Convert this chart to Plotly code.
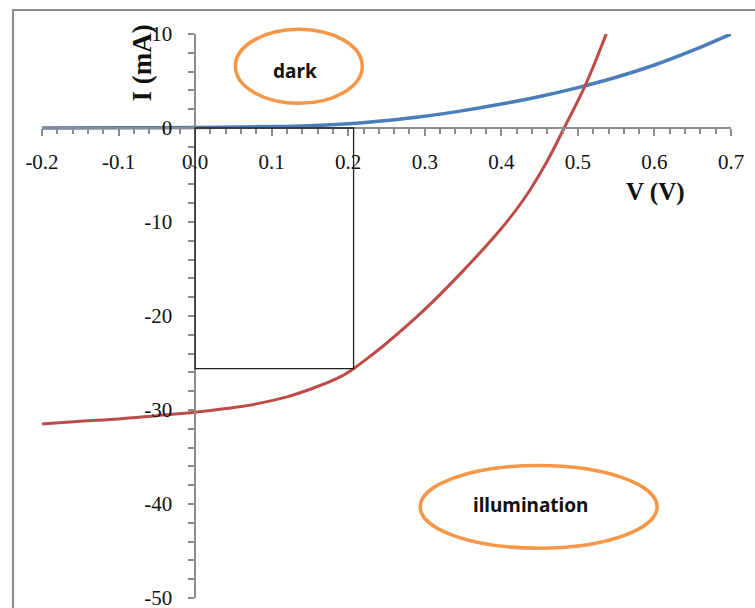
import plotly.graph_objects as go

# ---- data ----
v_dark = [-0.2, -0.1, 0.0, 0.1, 0.15, 0.2, 0.25, 0.3, 0.35, 0.4, 0.45, 0.5, 0.55, 0.6, 0.65, 0.7]
i_dark = [0.0, 0.02, 0.05, 0.15, 0.25, 0.45, 0.8, 1.25, 1.85, 2.55, 3.35, 4.3, 5.4, 6.7, 8.25, 10.0]

v_light = [-0.2, -0.15, -0.1, -0.05, 0.0, 0.04, 0.08, 0.12, 0.16, 0.19, 0.207, 0.23, 0.25, 0.3, 0.35, 0.4, 0.43, 0.46, 0.482, 0.51, 0.537]
i_light = [-31.5, -31.2, -30.95, -30.6, -30.25, -29.85, -29.35, -28.6, -27.5, -26.45, -25.6, -24.2, -22.9, -19.3, -15.2, -10.7, -7.5, -3.5, 0.0, 4.6, 10.0]

# maximum power rectangle (Vmp, Imp)
rect_v = [0.0, 0.207]
rect_i = [-25.6, 0.0]

x_range = [-0.2, 0.7]
y_range = [-50, 10]
x_ticks = [-0.2, -0.1, 0.0, 0.1, 0.2, 0.3, 0.4, 0.5, 0.6, 0.7]
x_tick_labels = ["-0.2", "-0.1", "0.0", "0.1", "0.2", "0.3", "0.4", "0.5", "0.6", "0.7"]
y_ticks = [-50, -40, -30, -20, -10, 0, 10]
y_tick_labels = ["-50", "-40", "-30", "-20", "-10", "0", "10"]

W, H = 755, 608
ML, MR, MT, MB = 42, 24, 34, 10

def px(v):
    return (v - x_range[0]) / (x_range[1] - x_range[0])

def py(i):
    return (i - y_range[0]) / (y_range[1] - y_range[0])

fig = go.Figure()
fig.add_trace(go.Scatter(x=v_dark, y=i_dark, mode="lines",
                         line=dict(color="#4A7EBB", width=3.5, shape="spline", smoothing=1.0),
                         showlegend=False, hoverinfo="skip"))
fig.add_trace(go.Scatter(x=v_light, y=i_light, mode="lines",
                         line=dict(color="#BE4B48", width=3, shape="spline", smoothing=1.0),
                         showlegend=False, hoverinfo="skip"))

tickfont = dict(family="Liberation Serif, Times New Roman, serif", size=21, color="#111111")

fig.update_layout(
    width=W, height=H,
    margin=dict(l=ML, r=MR, t=MT, b=MB, autoexpand=False),
    paper_bgcolor="white", plot_bgcolor="white",
    xaxis=dict(range=x_range, anchor="free", position=py(0), showgrid=False, zeroline=False,
               showline=True, linecolor="#8c8c8c", linewidth=1.5,
               ticks="outside", ticklen=7, tickcolor="#8c8c8c", tickwidth=1.5,
               tickvals=x_ticks, ticktext=x_tick_labels, tickfont=tickfont, ticklabelstandoff=8,
               ticklabeloverflow="allow",
               minor=dict(dtick=0.02, tick0=0, ticks="outside", ticklen=5, tickcolor="#8c8c8c", showgrid=False),
               automargin=False, fixedrange=True),
    yaxis=dict(range=y_range, anchor="free", position=px(0), showgrid=False, zeroline=False,
               showline=True, linecolor="#8c8c8c", linewidth=1.5,
               ticks="outside", ticklen=6, tickcolor="#8c8c8c", tickwidth=1.5,
               tickvals=y_ticks, ticktext=y_tick_labels, tickfont=tickfont, ticklabelstandoff=12,
               ticklabeloverflow="allow",
               minor=dict(dtick=2, tick0=0, ticks="outside", ticklen=6, tickcolor="#8c8c8c", showgrid=False),
               automargin=False, fixedrange=True),
)

shapes = []
# outer chart border
shapes.append(dict(type="rect", xref="paper", yref="paper", x0=-0.042, x1=1.1, y0=-0.1, y1=1.0426,
                   line=dict(color="#8a8a8a", width=2), layer="below"))
# max power rectangle
shapes.append(dict(type="rect", xref="x", yref="y", x0=rect_v[0], x1=rect_v[1], y0=rect_i[0], y1=rect_i[1],
                   line=dict(color="#222222", width=1.3)))
# ellipses (paper coords computed from data units)
ell_dark = dict(v0=0.0526, v1=0.2184, i0=2.63, i1=10.5)
ell_light = dict(v0=0.294, v1=0.6035, i0=-44.7, i1=-35.9)
for e in (ell_dark, ell_light):
    shapes.append(dict(type="circle", xref="paper", yref="paper",
                       x0=px(e["v0"]), x1=px(e["v1"]), y0=py(e["i0"]), y1=py(e["i1"]),
                       line=dict(color="#F79646", width=3.5)))
fig.update_layout(shapes=shapes)

labfont = dict(family="Noto Sans, Open Sans, sans-serif", size=19, color="#111111")
titlefont = dict(family="Liberation Serif, Times New Roman, serif", size=25, color="#111111")
fig.add_annotation(x=0.13, y=6.1, xref="x", yref="y", text="<b>dark</b>", showarrow=False, font=labfont)
fig.add_annotation(x=0.438, y=-40.1, xref="x", yref="y", text="<b>illumination</b>", showarrow=False, font=labfont)
fig.add_annotation(x=0.601, y=-6.84, xref="x", yref="y", text="<b>V (V)</b>", showarrow=False, font=titlefont)
fig.add_annotation(x=-0.0688, y=6.9, xref="x", yref="y", text="<b>I (mA)</b>", showarrow=False,
                   textangle=-90, font=dict(family=titlefont["family"], size=27, color="#111111"))

fig.write_html("out.html", config={"displayModeBar": False},
               post_script="document.body.style.margin='0px';document.body.style.overflow='hidden';")
